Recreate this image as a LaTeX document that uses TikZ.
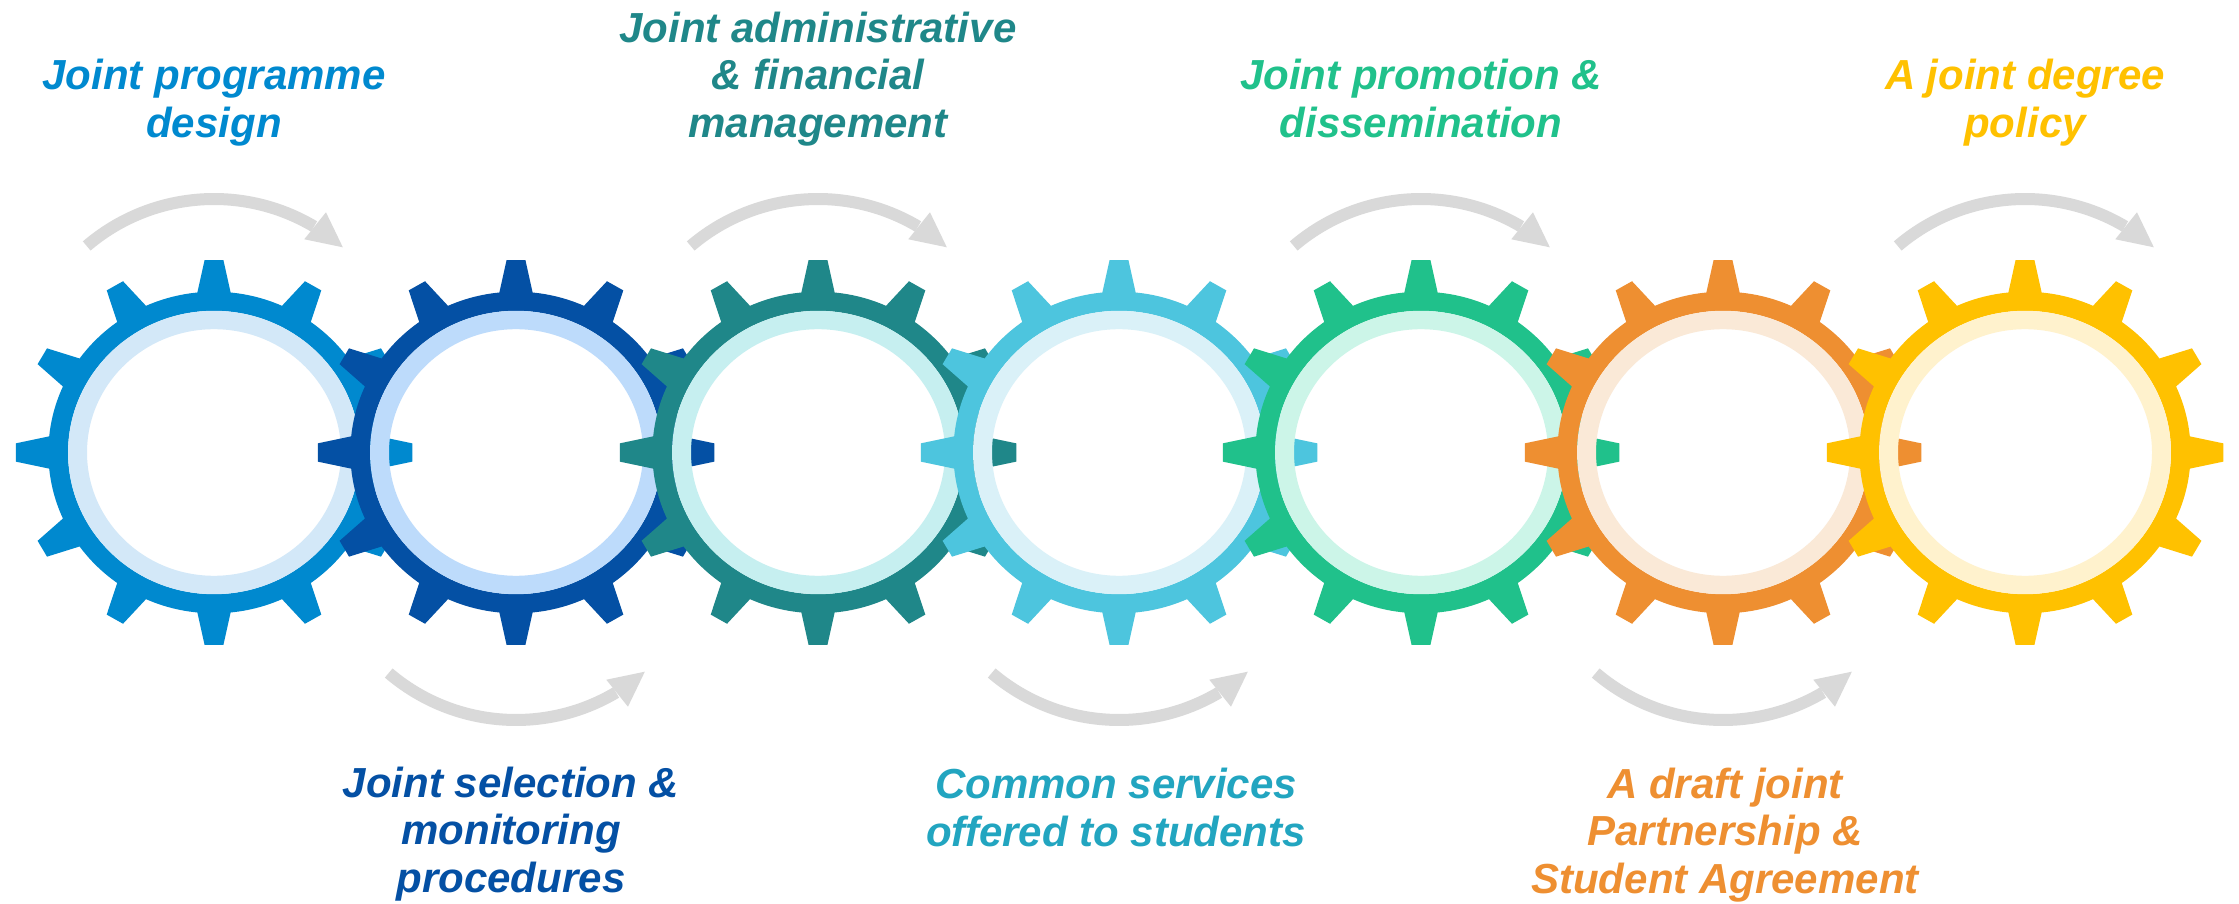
\documentclass[tikz,border=0pt]{standalone}
\usepackage{fontspec}
\setmainfont{Liberation Sans}
\definecolor{gearA}{HTML}{0089CF}\definecolor{ringA}{HTML}{D3E8F8}
\definecolor{gearB}{HTML}{0450A4}\definecolor{ringB}{HTML}{BDDBFB}
\definecolor{gearC}{HTML}{1F8789}\definecolor{ringC}{HTML}{C6EFF0}
\definecolor{gearD}{HTML}{4DC5DE}\definecolor{ringD}{HTML}{DAF1F8}
\definecolor{gearE}{HTML}{20C18B}\definecolor{ringE}{HTML}{CCF5E8}
\definecolor{gearF}{HTML}{EE8F31}\definecolor{ringF}{HTML}{FAE9D7}
\definecolor{gearG}{HTML}{FFC100}\definecolor{ringG}{HTML}{FFF2CD}
\definecolor{textD}{HTML}{22A5C0}
\definecolor{arrowgray}{HTML}{D9D9D9}
\newcommand\gearshape[4]{%
  \begin{scope}[shift={(#1,#2)},xscale=1.03]
    \fill[#3] (160.8pt,0pt) arc[start angle=0,end angle=360,radius=160.8pt] -- cycle
      (141.7pt,0pt) arc[start angle=0,end angle=-360,radius=141.7pt] -- cycle
      \foreach \a in {0,30,...,330}{ (\a-6.96:151.1pt) -- (\a-2.72:192.7pt) -- (\a+2.72:192.7pt) -- (\a+6.96:151.1pt) -- cycle };
    \fill[#4, even odd rule] (0pt,0pt) circle[radius=141.7pt] (0pt,0pt) circle[radius=123.3pt];
  \end{scope}}
\newcommand\turnarrow[3]{% x, y, yscale
  \begin{scope}[shift={(#1,#2)},yscale=#3]
    \draw[line width=12pt, arrowgray] (130.5:196pt) arc[start angle=130.5,end angle=59.3,radius=196pt];
    \fill[arrowgray] (59.9:180pt) -- (48.9:196pt) -- (58.5:214.3pt) -- cycle;
  \end{scope}}
\begin{document}
\begin{tikzpicture}[x=1pt,y=1pt,
  lbl/.style={align=center, inner sep=0pt, anchor=base,
    font=\fontsize{42}{47.5}\selectfont\bfseries\itshape}]
\useasboundingbox (0,0) rectangle (2239,903);
\fill[white] (0,0) rectangle (2239,903);
% gears
\coordinate (c1) at (214,450.5);
\coordinate (c2) at (516,450.5);
\coordinate (c3) at (818,450.5);
\coordinate (c4) at (1119,450.5);
\coordinate (c5) at (1421,450.5);
\coordinate (c6) at (1723,450.5);
\coordinate (c7) at (2025,450.5);
\gearshape{214}{450.5}{gearA}{ringA}
\gearshape{516}{450.5}{gearB}{ringB}
\gearshape{818}{450.5}{gearC}{ringC}
\gearshape{1119}{450.5}{gearD}{ringD}
\gearshape{1421}{450.5}{gearE}{ringE}
\gearshape{1723}{450.5}{gearF}{ringF}
\gearshape{2025}{450.5}{gearG}{ringG}
% arrows
\turnarrow{214}{508}{1}
\turnarrow{818}{508}{1}
\turnarrow{1421}{508}{1}
\turnarrow{2025}{508}{1}
\turnarrow{516}{379}{-1}
\turnarrow{1119}{379}{-1}
\turnarrow{1723}{379}{-1}
% labels (base = baseline of the last line)
\node[lbl, text=gearA] (l1) at (214,765.5) {Joint programme\\design};
\node[lbl, text=gearC] (l3) at (818,765.5) {Joint administrative\\\& financial\\management};
\node[lbl, text=gearE] (l5) at (1421,765.5) {Joint promotion \&\\dissemination};
\node[lbl, text=gearG] (l7) at (2025,765.5) {A joint degree\\policy};
\node[lbl, text=gearB] (l2) at (511,11) {Joint selection \&\\monitoring\\procedures};
\node[lbl, text=textD] (l4) at (1116,57) {Common services\\offered to students};
\node[lbl, text=gearF] (l6) at (1725,10) {A draft joint\\Partnership \&\\Student Agreement};
\end{tikzpicture}
\end{document}
